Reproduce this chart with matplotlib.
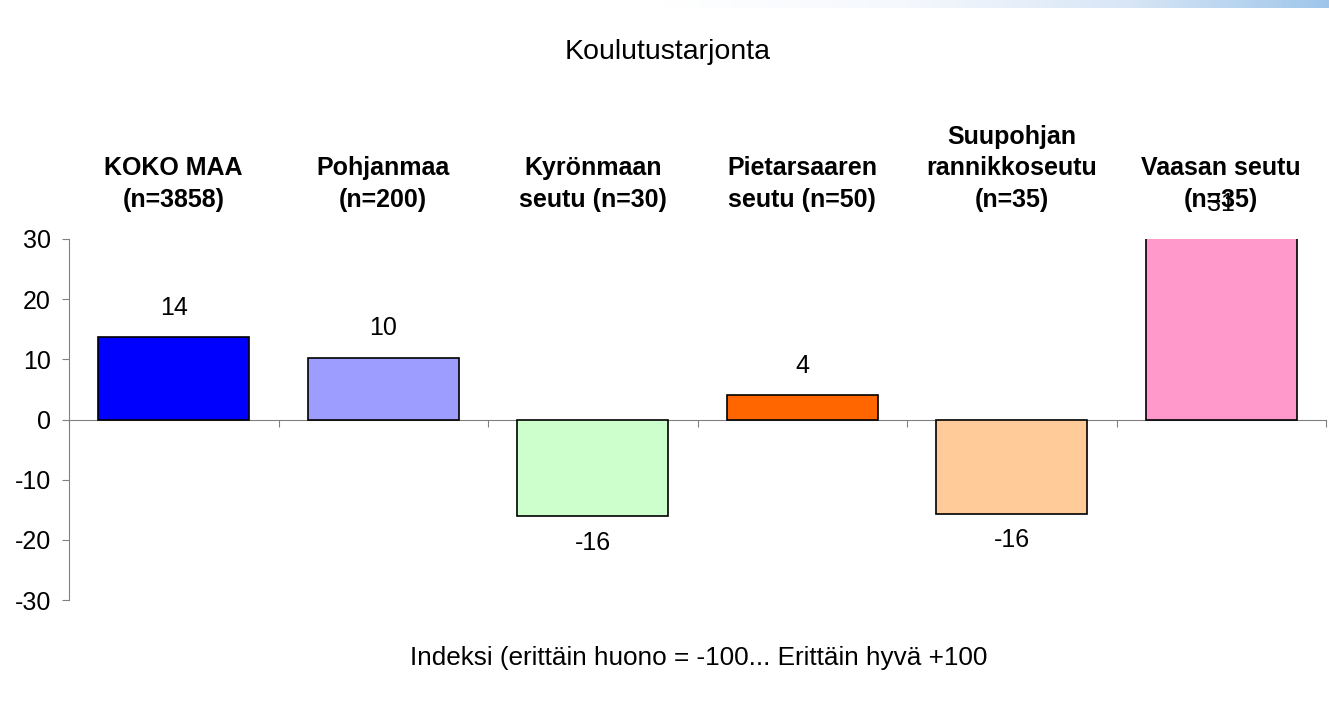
import numpy as np
import matplotlib.pyplot as plt
from matplotlib.colors import LinearSegmentedColormap

plt.rcParams['font.family'] = ['Liberation Sans', 'DejaVu Sans']
plt.rcParams['axes.unicode_minus'] = False

categories = ['KOKO MAA\n(n=3858)', 'Pohjanmaa\n(n=200)', 'Kyrönmaan\nseutu (n=30)',
              'Pietarsaaren\nseutu (n=50)', 'Suupohjan\nrannikkoseutu\n(n=35)',
              'Vaasan seutu\n(n=35)']
values = [13.7, 10.3, -16.1, 4.0, -15.7, 31.0]
labels = ['14', '10', '-16', '4', '-16', '31']
colors = ['#0000ff', '#9d9dff', '#ccffcc', '#ff6600', '#ffcc99', '#ff99cc']
yticks = [-30, -20, -10, 0, 10, 20, 30]

fs = 18

fig = plt.figure(figsize=(13.29, 7.19), dpi=100)

# top decorative gradient strip
gax = fig.add_axes([0.0, 1 - 8 / 719, 1.0, 8 / 719])
grad = np.linspace(0, 1, 512).reshape(1, -1)
cmap = LinearSegmentedColormap.from_list(
    'g', [(0, '#ffffff'), (0.5, '#ffffff'), (0.68, '#f5f8fd'),
          (0.85, '#d8e6f6'), (1, '#9fc6ea')])
gax.imshow(grad, aspect='auto', cmap=cmap, extent=[0, 1, 0, 1])
gax.axis('off')

ax = fig.add_axes([69 / 1329, 1 - 600 / 719, 1257 / 1329, 361 / 719])
x = np.arange(len(values))
ax.bar(x, values, width=0.72, color=colors, edgecolor='black', linewidth=1.2, zorder=3)

for xi, v, lab in zip(x, values, labels):
    off = 21 if v >= 0 else -19
    ax.annotate(lab, xy=(xi, v), xytext=(0, off), textcoords='offset points',
                ha='center', va='center', fontsize=fs, annotation_clip=False)

for xi, c in zip(x, categories):
    ax.text(xi, 1.0 + 32 / 361, c, transform=ax.get_xaxis_transform(), ha='center',
            va='baseline', fontsize=fs, fontweight='bold', linespacing=1.4)

ax.set_xlim(-0.5, len(values) - 0.5)
ax.set_ylim(-30, 30)
ax.set_yticks(yticks)
ax.set_xticks(np.arange(-0.5, len(values), 1.0))
ax.set_xticklabels([])
ax.tick_params(axis='y', labelsize=fs, length=5, color='#808080', pad=8)
ax.tick_params(axis='x', length=5, direction='out', color='#808080')
for s in ['top', 'right']:
    ax.spines[s].set_visible(False)
ax.spines['bottom'].set_position(('data', 0))
ax.spines['bottom'].set_color('#808080')
ax.spines['left'].set_color('#808080')

fig.text(668 / 1329, 1 - 52 / 719, 'Koulutustarjonta', ha='center', va='center', fontsize=20.5)
fig.text(699 / 1329, 1 - 658 / 719, 'Indeksi (erittäin huono = -100... Erittäin hyvä +100',
         ha='center', va='center', fontsize=18.8)

fig.savefig('out.png', dpi=100)
